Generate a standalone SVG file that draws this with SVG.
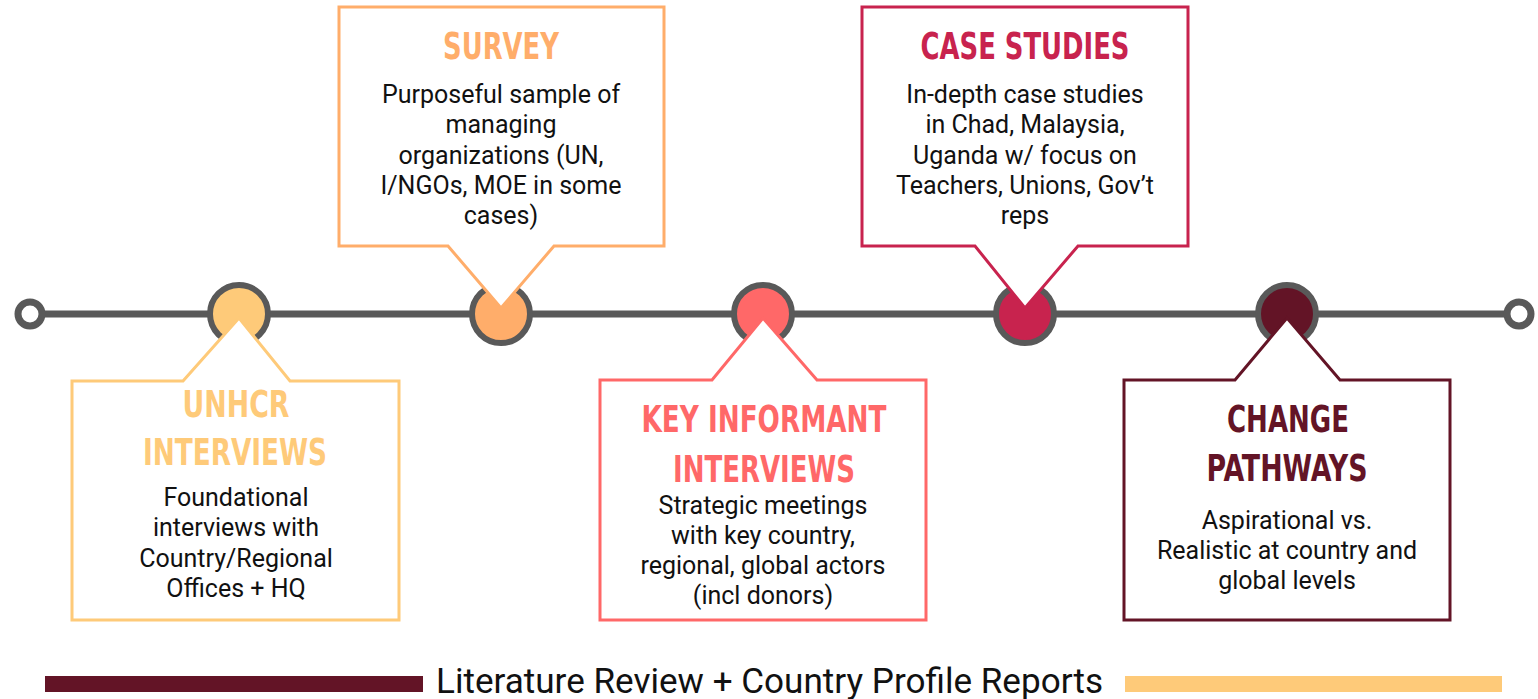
<svg xmlns="http://www.w3.org/2000/svg" width="1538" height="699" viewBox="0 0 1538 699">
  <style>
    .track { stroke: #595959; stroke-width: 7; fill: none; }
    .cap { stroke: #595959; stroke-width: 7; fill: #ffffff; }
    .dot { stroke: #595959; stroke-width: 6; }
    .callout { fill: #ffffff; stroke-width: 3; stroke-linejoin: miter; }
    .title { font-family: "Liberation Sans Narrow", "DejaVu Sans Condensed", "Liberation Sans", sans-serif; font-stretch: condensed; font-weight: bold; font-size: 38px; text-anchor: middle; }
    .body { font-family: Roboto, "Liberation Sans", sans-serif; font-size: 25px; fill: #111111; text-anchor: middle; }
    .footer { font-family: Roboto, "Liberation Sans", sans-serif; font-size: 35px; fill: #111111; }
    .c1 { fill: #FECA79; } .s1 { stroke: #FECA79; }
    .c2 { fill: #FFAD6A; } .s2 { stroke: #FFAD6A; }
    .c3 { fill: #FF6868; } .s3 { stroke: #FF6868; }
    .c4 { fill: #C8234E; } .s4 { stroke: #C8234E; }
    .c5 { fill: #631426; } .s5 { stroke: #631426; }
  </style>

  <!-- timeline track with open end caps -->
  <g id="connectors">
    <line class="track" x1="30" y1="314" x2="1519" y2="314"/>
    <circle class="cap" cx="30" cy="314" r="12"/>
    <circle class="cap" cx="1519" cy="314" r="12"/>
  </g>

  <!-- UNHCR interviews -->
  <g id="node-unhcr">
    <circle class="dot c1" cx="239" cy="314" r="29"/>
    <path class="callout s1" d="M72,381 H183 L239,318 L290,381 H399 V620 H72 Z"/>
    <text class="title c1" x="236" y="417" textLength="107" lengthAdjust="spacingAndGlyphs">UNHCR</text>
    <text class="title c1" x="235" y="465" textLength="184" lengthAdjust="spacingAndGlyphs">INTERVIEWS</text>
    <text class="body" x="236" y="506">Foundational</text>
    <text class="body" x="236" y="536">interviews with</text>
    <text class="body" x="236" y="567">Country/Regional</text>
    <text class="body" x="236" y="597">Offices + HQ</text>
  </g>

  <!-- Survey -->
  <g id="node-survey">
    <circle class="dot c2" cx="501" cy="314" r="29"/>
    <path class="callout s2" d="M339,7 H664 V246 H554 L501,308 L448,246 H339 Z"/>
    <text class="title c2" x="501" y="59" textLength="116" lengthAdjust="spacingAndGlyphs">SURVEY</text>
    <text class="body" x="501" y="103">Purposeful sample of</text>
    <text class="body" x="501" y="133">managing</text>
    <text class="body" x="501" y="164">organizations (UN,</text>
    <text class="body" x="501" y="194">I/NGOs, MOE in some</text>
    <text class="body" x="501" y="224">cases)</text>
  </g>

  <!-- Key informant interviews -->
  <g id="node-key-informant">
    <circle class="dot c3" cx="763" cy="314" r="29"/>
    <path class="callout s3" d="M600,380 H712 L763,318 L817,380 H926 V620 H600 Z"/>
    <text class="title c3" x="764" y="432" textLength="245" lengthAdjust="spacingAndGlyphs">KEY INFORMANT</text>
    <text class="title c3" x="764" y="482" textLength="182" lengthAdjust="spacingAndGlyphs">INTERVIEWS</text>
    <text class="body" x="763" y="514">Strategic meetings</text>
    <text class="body" x="763" y="544">with key country,</text>
    <text class="body" x="763" y="574">regional, global actors</text>
    <text class="body" x="763" y="604">(incl donors)</text>
  </g>

  <!-- Case studies -->
  <g id="node-case-studies">
    <circle class="dot c4" cx="1025" cy="314" r="29"/>
    <path class="callout s4" d="M862,7 H1188 V246 H1078 L1025,308 L975,246 H862 Z"/>
    <text class="title c4" x="1025" y="59" textLength="209" lengthAdjust="spacingAndGlyphs">CASE STUDIES</text>
    <text class="body" x="1025" y="103">In-depth case studies</text>
    <text class="body" x="1025" y="133">in Chad, Malaysia,</text>
    <text class="body" x="1025" y="164">Uganda w/ focus on</text>
    <text class="body" x="1025" y="194">Teachers, Unions, Gov’t</text>
    <text class="body" x="1025" y="224">reps</text>
  </g>

  <!-- Change pathways -->
  <g id="node-change-pathways">
    <circle class="dot c5" cx="1287" cy="314" r="29"/>
    <path class="callout s5" d="M1124,380 H1235 L1287,318 L1340,380 H1450 V620 H1124 Z"/>
    <text class="title c5" x="1288" y="432" textLength="122" lengthAdjust="spacingAndGlyphs">CHANGE</text>
    <text class="title c5" x="1287" y="481" textLength="161" lengthAdjust="spacingAndGlyphs">PATHWAYS</text>
    <text class="body" x="1287" y="529">Aspirational vs.</text>
    <text class="body" x="1287" y="559">Realistic at country and</text>
    <text class="body" x="1287" y="589">global levels</text>
  </g>

  <!-- background activity bar -->
  <g id="node-literature">
    <rect x="45" y="676" width="378" height="16" class="c5"/>
    <rect x="1125" y="676" width="377" height="16" class="c1"/>
    <text class="footer" x="436" y="693" textLength="667" lengthAdjust="spacingAndGlyphs">Literature Review + Country Profile Reports</text>
  </g>
</svg>
